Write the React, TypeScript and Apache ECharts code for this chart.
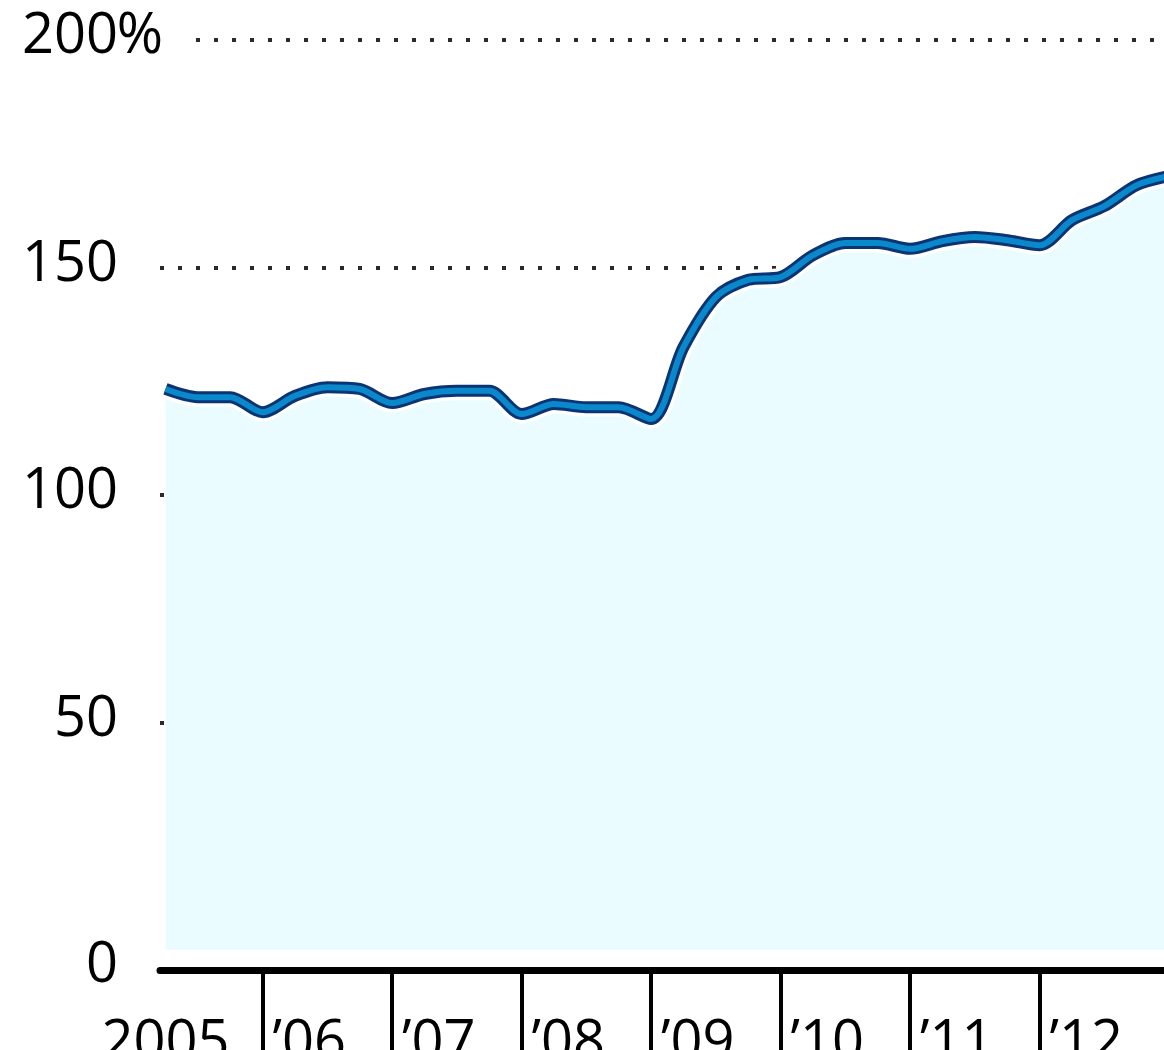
import React, { useEffect, useRef } from "react";
import * as echarts from "echarts";

// Quarterly series, first point at end of Q1 2005
const START_YEAR = 2005.25;
const STEP = 0.25;
const values = [
  123.3, 121.5, 121.5, 118.2, 121.8, 123.7, 123.3, 120.2,
  122.2, 122.9, 122.9, 117.8, 120.0, 119.3, 119.3, 116.7,
  132.5, 143.5, 147.3, 147.9, 152.7, 155.4, 155.4, 154.1,
  155.8, 156.7, 156.0, 154.9, 160.4, 163.5, 168.1, 170.1,
];
const yearTicks = [2006, 2007, 2008, 2009, 2010, 2011, 2012];
const firstYearLabel = "2005";
const yMin = 0;
const yMax = 200;
const yStep = 50;
const xMin = 2005.2077;
const xMax = 2012.9606;

const FONT = "'Open Sans', 'DejaVu Sans', sans-serif";
const FS = 56;

export default function App() {
  const ref = useRef<HTMLDivElement>(null);
  useEffect(() => {
    if (!ref.current) return;
    const chart = echarts.init(ref.current, undefined, { renderer: "svg" });
    const data = values.map((v, i) => [START_YEAR + i * STEP, v]);
    const base = {
      type: "line",
      data,
      symbol: "none",
      smooth: 0.3,
      xAxisIndex: 0,
      yAxisIndex: 0,
      silent: true,
    };
    chart.setOption({
      animation: false,
      grid: {
        left: 160,
        right: 0,
        top: 40,
        bottom: 100,
        containLabel: false,
        outerBoundsMode: "none",
      },
      xAxis: [
        {
          type: "value",
          min: xMin,
          max: xMax,
          position: "bottom",
          offset: 20,
          axisLine: { show: true, onZero: false, lineStyle: { color: "#000", width: 7 } },
          axisTick: {
            show: true,
            customValues: yearTicks,
            length: 100,
            lineStyle: { color: "#000", width: 4 },
          },
          axisLabel: {
            show: true,
            customValues: yearTicks,
            formatter: (v: number) => "\u2019" + String(Math.round(v)).slice(2),
            align: "left",
            padding: [0, 0, 0, 10],
            margin: 40,
            fontSize: FS,
            fontFamily: FONT,
            color: "#000",
          },
          splitLine: { show: false },
        },
        {
          type: "value",
          min: xMin,
          max: xMax,
          position: "bottom",
          offset: 20,
          axisLine: { show: false, onZero: false },
          axisTick: { show: false },
          axisLabel: {
            show: true,
            customValues: [START_YEAR],
            formatter: () => firstYearLabel,
            align: "center",
            margin: 40,
            fontSize: FS,
            fontFamily: FONT,
            color: "#000",
          },
          splitLine: { show: false },
        },
      ],
      yAxis: {
        type: "value",
        min: yMin,
        max: yMax,
        interval: yStep,
        axisLine: { show: false },
        axisTick: { show: false },
        axisLabel: {
          margin: -35,
          fontSize: FS,
          fontFamily: FONT,
          color: "#000",
          verticalAlign: "middle",
          padding: [0, 0, 18, 0],
          formatter: (v: number) =>
            v === yMax ? `${v}{p|%}` : v === yMin ? `{z|${v}}{s|}` : `${v}{s|}`,
          rich: {
            p: {
              width: 45,
              padding: [0, 32, 0, 0],
              backgroundColor: "#fff",
              fontSize: FS,
              fontFamily: FONT,
              color: "#000",
            },
            s: { width: 77, fontSize: FS, fontFamily: FONT },
            z: { padding: [38, 0, 0, 0], fontSize: FS, fontFamily: FONT, color: "#000" },
          },
        },
        splitLine: {
          show: true,
          showMinLine: false,
          lineStyle: { color: "#2a2a2a", width: 4, type: [4, 14] },
        },
      },
      series: [
        {
          ...base,
          lineStyle: { color: "#ffffff", width: 19, cap: "butt", join: "round" },
          areaStyle: { color: "#eafcff", opacity: 1 },
        },
        {
          ...base,
          lineStyle: { color: "#0b3473", width: 12, cap: "butt", join: "round" },
        },
        {
          ...base,
          lineStyle: { color: "#0a88cc", width: 6, cap: "butt", join: "round" },
        },
      ],
    });
    return () => chart.dispose();
  }, []);
  return (
    <div
      ref={ref}
      style={{ position: "fixed", left: 0, top: 0, width: 1164, height: 1050, background: "#fff" }}
    />
  );
}
